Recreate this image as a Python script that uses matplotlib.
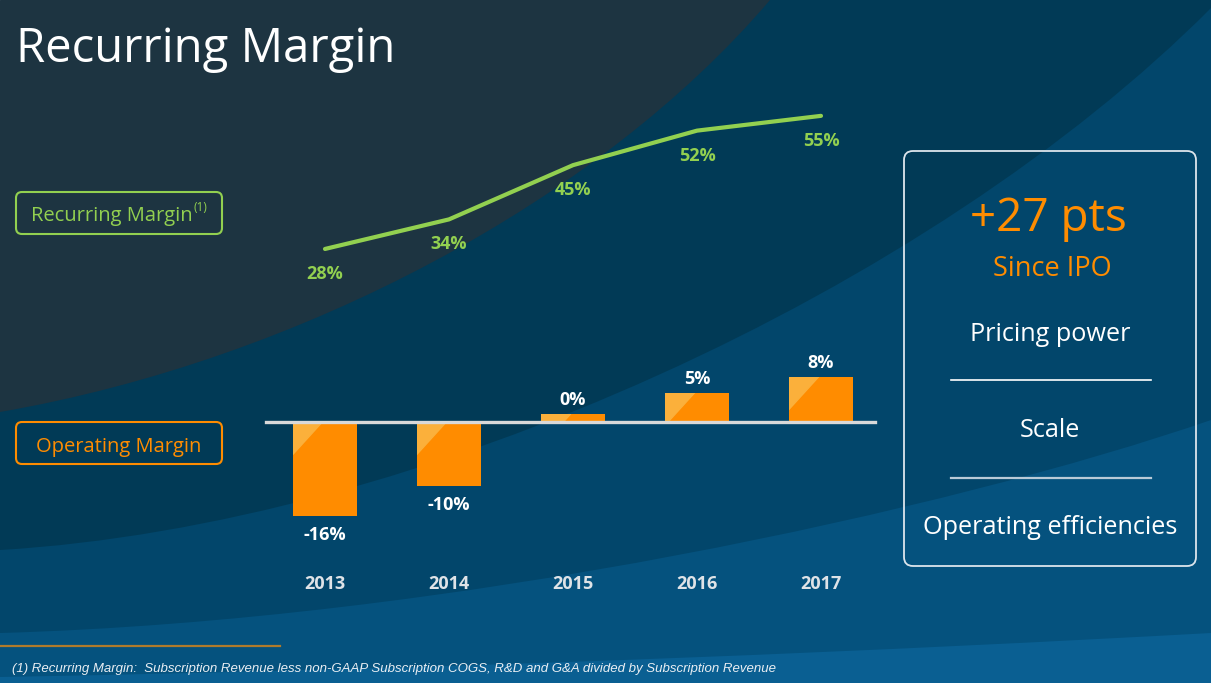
import matplotlib
matplotlib.use('Agg')
import matplotlib.pyplot as plt
from matplotlib.path import Path
from matplotlib.patches import PathPatch, Polygon, FancyBboxPatch

plt.rcParams['font.family'] = ['Open Sans', 'DejaVu Sans']

# data
years = ['2013', '2014', '2015', '2016', '2017']
recurring_margin = [28, 34, 45, 52, 55]
operating_margin = [-16, -11, 1.3, 4.9, 7.6]   # bar heights as drawn
op_labels = ['-16%', '-10%', '0%', '5%', '8%']
side_points = ['Pricing power', 'Scale', 'Operating efficiencies']

W, H = 1211, 683
fig = plt.figure(figsize=(W / 100, H / 100), dpi=100)

# background in pixel coords (y down)
bg = fig.add_axes([0, 0, 1, 1], zorder=0)
bg.set_xlim(0, W)
bg.set_ylim(H, 0)
bg.axis('off')
bg.add_patch(plt.Rectangle((0, 0), W, H, color='#1d3441'))


def band(start, c1, c2, end, tail, color):
    verts = [start, c1, c2, end] + tail + [start]
    codes = [Path.MOVETO, Path.CURVE4, Path.CURVE4, Path.CURVE4] + [Path.LINETO] * len(tail) + [Path.CLOSEPOLY]
    bg.add_patch(PathPatch(Path(verts, codes), facecolor=color, edgecolor='none'))


band((0, 412), (300, 360), (600, 200), (770, 0), [(W, 0), (W, H), (0, H)], '#013a56')
band((0, 550), (420, 525), (930, 290), (W, 8), [(W, H), (0, H)], '#02466b')
band((0, 633), (450, 620), (950, 510), (W, 420), [(W, H), (0, H)], '#05527e')
band((0, 677), (500, 668), (900, 650), (W, 633), [(W, H), (0, H)], '#0a5f92')

# title
bg.text(16, 62, 'Recurring Margin', color='white', fontsize=34, va='baseline', ha='left')

# legend boxes
bg.add_patch(FancyBboxPatch((16, 192), 206, 42, boxstyle='round,pad=0,rounding_size=6',
                            facecolor='none', edgecolor='#92d050', lw=1.5))
bg.text(31, 221, 'Recurring Margin', color='#92d050', fontsize=14.5, va='baseline')
bg.text(193, 211, '(1)', color='#92d050', fontsize=8.5, va='baseline')
bg.add_patch(FancyBboxPatch((16, 422), 206, 42, boxstyle='round,pad=0,rounding_size=6',
                            facecolor='none', edgecolor='#ff8c00', lw=1.5))
bg.text(119, 452, 'Operating Margin', color='#ff8c00', fontsize=14.5, va='baseline', ha='center')

# right panel
bg.add_patch(FancyBboxPatch((904, 151), 292, 415, boxstyle='round,pad=0,rounding_size=9',
                            facecolor='none', edgecolor='#dde5ec', lw=1.3))
bg.text(1048, 231, '+27 pts', color='#ff8c00', fontsize=33, ha='center', va='baseline')
bg.text(1052, 276, 'Since IPO', color='#ff8c00', fontsize=19.5, ha='center', va='baseline')
for txt, yb in zip(side_points, [341, 437, 534]):
    bg.text(1050, yb, txt, color='white', fontsize=18.2, ha='center', va='baseline')
bg.plot([951, 1151], [380, 380], color='white', lw=1.2)
bg.plot([951, 1151], [478, 478], color='#b9cad7', lw=1.6)

# footnote
bg.plot([0, 280], [646, 646], color='#b07b2c', lw=1.6)
bg.text(12, 672, '(1) Recurring Margin:  Subscription Revenue less non-GAAP Subscription COGS, '
        'R&D and G&A divided by Subscription Revenue',
        color='#e9eef3', fontsize=9.55, style='italic', family=['Liberation Sans', 'DejaVu Sans'],
        va='baseline')

# chart axes: pixel box x 263..883, y 100..560
left, right, top, bottom = 263, 883, 100, 560
rect = [left / W, 1 - bottom / H, (right - left) / W, (bottom - top) / H]
ax = fig.add_axes(rect, zorder=1)
ax.set_facecolor('none')
ax2 = ax.twinx()

x = list(range(len(years)))
ax.set_xlim(-0.5, 4.5)
zero_px, bar_scale = 421.5, 5.9
ax.set_ylim(-(bottom - zero_px) / bar_scale, (zero_px - top) / bar_scale)
line_zero, line_scale = 387, 4.93
ax2.set_ylim(-(bottom - line_zero) / line_scale, (line_zero - top) / line_scale)

bars = ax.bar(x, operating_margin, width=0.52, color='#ff8c00', zorder=2)
dx, dy = 30 / 124, 33 / bar_scale
for b, v in zip(bars, operating_margin):
    x0 = b.get_x()
    t = max(v, 0)
    tri = Polygon([(x0, t), (x0 + dx, t), (x0, t - dy)], closed=True, color='#fbb03b', zorder=3)
    ax.add_patch(tri)
    tri.set_clip_path(b)

ax.axhline(0, xmin=0.005, xmax=0.987, color='#d9d9d9', lw=2.4, zorder=4)

for i, (v, lbl) in enumerate(zip(operating_margin, op_labels)):
    off = 6.5 if v >= 0 else -17.3
    ax.annotate(lbl, (i, v), xytext=(0, off), textcoords='offset points', ha='center',
                va='baseline', color='white', fontsize=13, fontweight='bold')

ax2.plot(x, recurring_margin, color='#92d050', lw=3, solid_capstyle='round', zorder=5)
for i, v in enumerate(recurring_margin):
    ax2.annotate(f'{v}%', (i, v), xytext=(0, -21.5), textcoords='offset points', ha='center',
                 va='baseline', color='#92d050', fontsize=13, fontweight='bold')

ax.set_xticks(x, years)
ax.tick_params(axis='x', length=0, pad=11, labelsize=13, labelcolor='#dfe3e7')
for t in ax.get_xticklabels():
    t.set_fontweight('bold')
ax.set_yticks([])
ax2.set_yticks([])
for a in (ax, ax2):
    for s in a.spines.values():
        s.set_visible(False)

fig.savefig('out.png', dpi=100)
